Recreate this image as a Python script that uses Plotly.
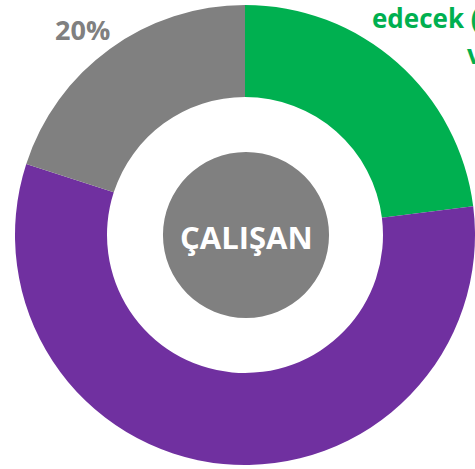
import plotly.graph_objects as go

# Data
categories = ["Devam edecek", "Diğer", "Kararsız"]
values = [23, 57, 20]
colors = ["#00B050", "#7030A0", "#808080"]
center_label = "ÇALIŞAN"
gray_label = "20%"
green_label_1 = "edecek (23%)"
green_label_2 = "ve"

W, H = 475, 469

fig = go.Figure()

# Outer donut
fig.add_trace(go.Pie(
    labels=categories,
    values=values,
    marker=dict(colors=colors, line=dict(width=0)),
    hole=0.6,
    sort=False,
    direction="clockwise",
    rotation=0,
    textinfo="none",
    hoverinfo="skip",
    showlegend=False,
    domain=dict(x=[15 / W, 1.0], y=[4 / H, 464 / H]),
))

# Central gray disc
fig.add_trace(go.Pie(
    labels=[center_label],
    values=[1],
    marker=dict(colors=["#808080"], line=dict(width=0)),
    sort=False,
    textinfo="none",
    hoverinfo="skip",
    showlegend=False,
    domain=dict(x=[163 / W, 329 / W], y=[151 / H, 317 / H]),
))

annotations = [
    dict(text="<b>" + center_label + "</b>", x=246 / W, y=1 - 237 / H,
         xref="paper", yref="paper", showarrow=False,
         font=dict(family="Open Sans", size=31, color="white"),
         xanchor="center", yanchor="middle"),
    dict(text="<b>" + gray_label + "</b>", x=82 / W, y=1 - 29 / H,
         xref="paper", yref="paper", showarrow=False,
         font=dict(family="Open Sans", size=27, color="#808080"),
         xanchor="center", yanchor="middle"),
    dict(text="<b>" + green_label_1 + "</b>", x=370 / W, y=1 - 18 / H,
         xref="paper", yref="paper", showarrow=False,
         font=dict(family="Open Sans", size=26, color="#00B050"),
         xanchor="left", yanchor="middle"),
    dict(text="<b>" + green_label_2 + "</b>", x=465 / W, y=1 - 54 / H,
         xref="paper", yref="paper", showarrow=False,
         font=dict(family="Open Sans", size=26, color="#00B050"),
         xanchor="left", yanchor="middle"),
]

fig.update_layout(
    width=W, height=H,
    margin=dict(l=0, r=0, t=0, b=0),
    paper_bgcolor="white",
    plot_bgcolor="white",
    annotations=annotations,
)

fig.write_html("out.html")
